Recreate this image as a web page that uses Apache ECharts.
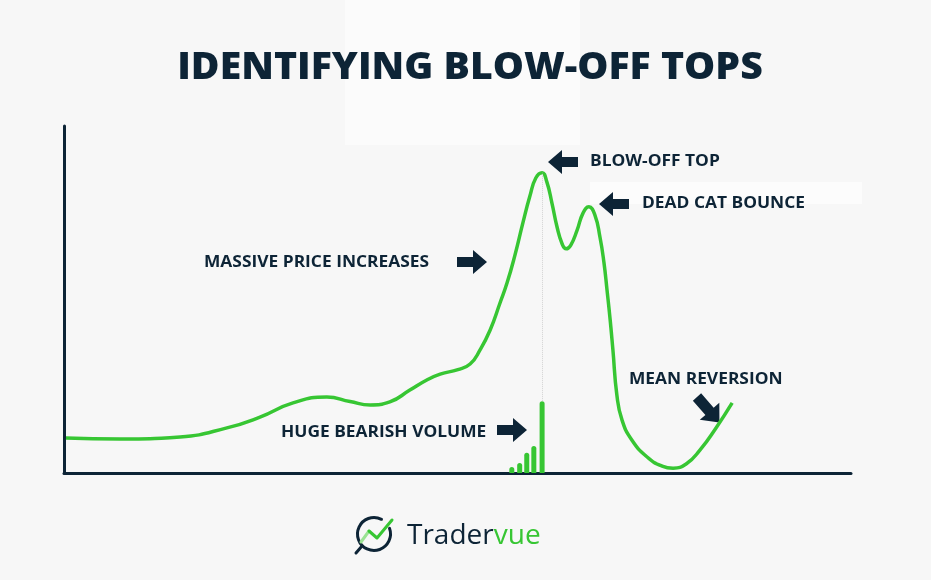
<!DOCTYPE html>
<html>
<head>
<meta charset="utf-8">
<script src="https://cdn.jsdelivr.net/npm/echarts@6/dist/echarts.min.js"></script>
<style>html,body{margin:0;padding:0;background:#f7f7f7;}#c{width:931px;height:580px;}</style>
</head>
<body>
<div id="c"></div>
<script>
// Price path (time 0-200, price 0-100)
const priceX = [0.5, 14.2, 29.5, 41.4, 49.8, 58.2, 66.8, 72.7, 77.8, 82.8, 87.9, 92.2, 95.6, 100.1, 103.2, 105.7, 108.3, 110.8, 112.6, 114.6, 116.6, 118.4, 119.9, 121.5, 122.7, 124.0, 125.3, 126.6, 127.6, 128.8, 130.4, 131.9, 133.4, 134.9, 136.2, 137.2, 138.0, 138.8, 139.5, 140.5, 141.8, 144.3, 148.2, 152.0, 154.8, 158.1, 161.6, 165.7, 169.8];
const priceY = [10.1, 9.8, 10.4, 13.0, 16.1, 20.2, 21.9, 20.6, 19.6, 20.5, 23.9, 26.8, 28.5, 29.8, 31.4, 35.4, 41.2, 49.0, 54.8, 62.8, 72.0, 79.8, 85.0, 86.5, 83.9, 77.8, 70.9, 66.0, 64.6, 65.7, 70.0, 74.9, 76.7, 74.4, 68.0, 60.8, 52.7, 44.1, 35.4, 22.5, 15.3, 9.5, 4.6, 2.0, 1.4, 2.6, 6.6, 13.0, 20.2];
// Volume bars
const volumeX = [113.8, 115.8, 117.6, 119.4, 121.5];
const volumeY = [1.7, 2.9, 5.8, 7.8, 20.7];
const peakX = 121.5, peakY = 86.5;

const titleText = 'IDENTIFYING BLOW-OFF TOPS';
const labels = ['BLOW-OFF TOP', 'DEAD CAT BOUNCE', 'MASSIVE PRICE INCREASES', 'HUGE BEARISH VOLUME', 'MEAN REVERSION'];

const NAVY = '#0d2436';
const GREEN = '#37c633';
const FONT = '"Open Sans", "DejaVu Sans", sans-serif';

function arrowLeft(tipX, cy) {
  return [[tipX, cy], [tipX + 14, cy - 12], [tipX + 14, cy - 5], [tipX + 30, cy - 5], [tipX + 30, cy + 5], [tipX + 14, cy + 5], [tipX + 14, cy + 12]];
}
function arrowRight(tipX, cy) {
  return [[tipX, cy], [tipX - 14, cy - 12], [tipX - 14, cy - 5], [tipX - 30, cy - 5], [tipX - 30, cy + 5], [tipX - 14, cy + 5], [tipX - 14, cy + 12]];
}
function label(text, x, y) {
  return { type: 'text', x: x, y: y, scaleX: 1.12, style: { text: text, fill: NAVY, font: '700 15.5px ' + FONT, textVerticalAlign: 'middle' } };
}

const chart = echarts.init(document.getElementById('c'));
chart.setOption({
  backgroundColor: '#f7f7f7',
  animation: false,
  grid: { left: 64, right: 80, top: 126, bottom: 107 },
  xAxis: {
    type: 'value', min: 0, max: 200,
    axisLine: { show: true, onZero: false, lineStyle: { color: NAVY, width: 3 } },
    axisTick: { show: false }, axisLabel: { show: false }, splitLine: { show: false }
  },
  yAxis: {
    type: 'value', min: 0, max: 100,
    axisLine: { show: true, lineStyle: { color: NAVY, width: 3 } },
    axisTick: { show: false }, axisLabel: { show: false }, splitLine: { show: false }
  },
  series: [
    {
      type: 'bar',
      data: volumeX.map((x, i) => [x, volumeY[i]]),
      barWidth: 5,
      itemStyle: { color: GREEN, borderRadius: [3, 3, 0, 0] },
      markLine: {
        silent: true, symbol: 'none', label: { show: false },
        lineStyle: { color: '#d2d2d2', type: 'dotted', width: 1 },
        data: [[{ coord: [volumeX[4], volumeY[4]] }, { coord: [peakX, peakY] }]]
      },
      z: 2
    },
    {
      type: 'line',
      data: priceX.map((x, i) => [x, priceY[i]]),
      smooth: 0.5,
      symbol: 'none',
      lineStyle: { color: GREEN, width: 3.5 },
      z: 3
    }
  ],
  graphic: [
    { type: 'rect', shape: { x: 345, y: 0, width: 235, height: 145 }, style: { fill: '#fbfbfb' }, z: -10 },
    { type: 'rect', shape: { x: 590, y: 182, width: 272, height: 22 }, style: { fill: '#fcfcfc' }, z: -10 },
    { type: 'text', x: 470, y: 68, scaleX: 1.06, style: { text: titleText, fill: NAVY, font: '800 37px ' + FONT, textAlign: 'center', textVerticalAlign: 'middle' } },
    label(labels[0], 590, 162),
    label(labels[1], 642, 204),
    label(labels[2], 204, 263),
    label(labels[3], 281, 433),
    label(labels[4], 629, 380),
    { type: 'polygon', shape: { points: arrowLeft(548, 162) }, style: { fill: NAVY } },
    { type: 'polygon', shape: { points: arrowLeft(599, 204) }, style: { fill: NAVY } },
    { type: 'polygon', shape: { points: arrowRight(487, 262) }, style: { fill: NAVY } },
    { type: 'polygon', shape: { points: arrowRight(527, 430) }, style: { fill: NAVY } },
    { type: 'polygon', x: 697, y: 397, rotation: -0.85, shape: { points: [[34, 0], [19, -13], [19, -5.5], [0, -5.5], [0, 5.5], [19, 5.5], [19, 13]] }, style: { fill: NAVY } },
    // logo
    { type: 'arc', shape: { cx: 374, cy: 534, r: 16.5, startAngle: -0.35, endAngle: 2 * Math.PI - 1.1, clockwise: true }, style: { stroke: NAVY, lineWidth: 3, fill: null, lineCap: 'round' } },
    { type: 'line', shape: { x1: 362, y1: 546, x2: 356, y2: 553 }, style: { stroke: NAVY, lineWidth: 3, lineCap: 'round' } },
    { type: 'polyline', shape: { points: [[361, 542], [369, 531]] }, style: { stroke: '#9be394', lineWidth: 3, lineCap: 'round' } },
    { type: 'polyline', shape: { points: [[369, 531], [377, 538], [392, 520]] }, style: { stroke: GREEN, lineWidth: 3, lineCap: 'round', lineJoin: 'round' } },
    { type: 'text', x: 407, y: 536, style: { text: '{a|Trader}{b|vue}', textVerticalAlign: 'middle', rich: { a: { fill: NAVY, font: '400 28px ' + FONT, color: NAVY }, b: { fill: GREEN, font: '400 28px ' + FONT, color: GREEN } } } }
  ]
});
</script>
</body>
</html>
